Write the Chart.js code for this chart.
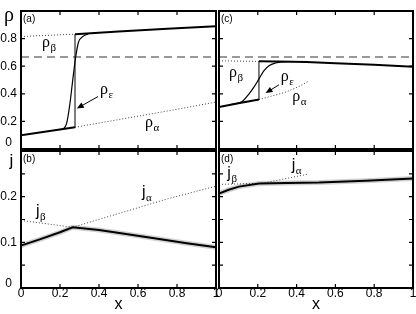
<!DOCTYPE html>
<html>
<head>
<meta charset="utf-8">
<script src="https://cdn.jsdelivr.net/npm/chart.js@4.4.1/dist/chart.umd.min.js"></script>
<style>
  html, body { margin: 0; padding: 0; background: #fff; }
  #wrap { position: relative; width: 416px; height: 314px; }
  #wrap canvas { position: absolute; left: 0; top: 0; }
</style>
</head>
<body>
<div id="wrap">
  <canvas id="panel-a" width="416" height="314"></canvas>
  <canvas id="panel-b" width="416" height="314"></canvas>
  <canvas id="panel-c" width="416" height="314"></canvas>
  <canvas id="panel-d" width="416" height="314"></canvas>
</div>
<script>
// ticks
const xTicks = [0, 0.2, 0.4, 0.6, 0.8, 1];
const xTickLabels = ["0", "0.2", "0.4", "0.6", "0.8", "1"];
const rhoTicks = [0, 0.2, 0.4, 0.6, 0.8, 1];
const rhoTickLabels = ["0", "0.2", "0.4", "0.6", "0.8", ""];
const jTicks = [0, 0.05, 0.1, 0.15, 0.2, 0.25, 0.3];
const jTickLabels = ["0", "", "0.1", "", "0.2", "", ""];

// dashed reference density
const refX = [0, 1];
const refRho = [0.667, 0.667];

// (a) densities
const aShock = 0.277;
const aAlphaX = [0, 0.277, 0.5, 0.75, 1];
const aAlpha = [0.10, 0.157, 0.213, 0.275, 0.34];
const aBetaX = [0, 0.277, 0.5, 0.75, 1];
const aBeta = [0.815, 0.832, 0.852, 0.871, 0.89];
const aEpsX = [0.20, 0.217, 0.234, 0.251, 0.265, 0.28, 0.294, 0.32, 0.345];
const aEps = [0.141, 0.147, 0.186, 0.33, 0.496, 0.663, 0.77, 0.818, 0.834];

// (c) densities
const cShock = 0.206;
const cAlphaX = [0, 0.1, 0.206, 0.344, 0.412, 0.46];
const cAlpha = [0.305, 0.332, 0.358, 0.412, 0.453, 0.49];
const cBetaX = [0, 0.206, 0.3, 0.45, 0.6, 0.8, 1];
const cBeta = [0.639, 0.635, 0.634, 0.630, 0.622, 0.61, 0.596];
const cEpsX = [0.06, 0.12, 0.155, 0.18, 0.206, 0.232, 0.258, 0.292, 0.326, 0.36];
const cEps = [0.321, 0.345, 0.40, 0.448, 0.508, 0.568, 0.603, 0.623, 0.632, 0.634];

// (b) currents
const bBetaX = [0, 0.265];
const bBeta = [0.148, 0.133];
const bAlphaX = [0.265, 0.5, 0.75, 1];
const bAlpha = [0.133, 0.163, 0.195, 0.223];
const bSimX = [0, 0.1, 0.2, 0.265, 0.4, 0.513, 0.7, 0.85, 1];
const bSim = [0.093, 0.107, 0.122, 0.133, 0.127, 0.12, 0.108, 0.098, 0.089];

// (d) currents
const dBetaX = [0, 0.22];
const dBeta = [0.227, 0.229];
const dAlphaX = [0.22, 0.455];
const dAlpha = [0.229, 0.249];
const dSimX = [0, 0.05, 0.103, 0.206, 0.35, 0.515, 0.756, 1];
const dSim = [0.207, 0.215, 0.222, 0.229, 0.23, 0.231, 0.235, 0.24];

const SANS = "'Liberation Sans', Arial, sans-serif";
const SERIF = "'Liberation Serif', 'Times New Roman', serif";

const THICK = { borderWidth: 2 };
const THIN = { borderWidth: 1 };
const SMOOTH = { borderWidth: 1.2, cubicInterpolationMode: "monotone" };
const DOTTED = { borderWidth: 1, borderDash: [1, 2], borderColor: "#444" };
const DASHED = { borderWidth: 2, borderDash: [8, 5], borderColor: "#999" };
const FUZZ = { borderWidth: 5, borderColor: "rgba(0,0,0,0.18)" };

const pts = (xs, ys) => xs.map((x, i) => ({ x, y: ys[i] }));
const upTo = (p, s) => p.filter(q => q.x <= s);
const from = (p, s) => p.filter(q => q.x >= s);
const at = (p, s) => p.find(q => q.x === s);

function line(data, style) {
  return { data, showLine: true, pointRadius: 0, borderColor: "#000", fill: false, ...style };
}

function drawSymbol(ctx, px, py, main, sub, font, size) {
  ctx.textAlign = "left";
  ctx.textBaseline = "alphabetic";
  ctx.font = `${size}px ${font}`;
  ctx.fillText(main, px, py);
  const w = ctx.measureText(main).width;
  ctx.font = `${Math.round(size * 0.68)}px ${SERIF}`;
  ctx.fillText(sub, px + w + 0.5, py + 4);
}

const panelDecor = {
  id: "panelDecor",
  afterDatasetsDraw(chart, args, opts) {
    const { ctx, chartArea: a, scales: { x, y } } = chart;
    ctx.save();
    ctx.strokeStyle = "#000";
    ctx.fillStyle = "#000";

    // inward tick marks on all four sides
    ctx.lineWidth = 1.2;
    ctx.beginPath();
    for (const v of opts.xTicks) {
      const px = x.getPixelForValue(v);
      ctx.moveTo(px, a.top); ctx.lineTo(px, a.top + 4);
      ctx.moveTo(px, a.bottom); ctx.lineTo(px, a.bottom - 4);
    }
    for (const v of opts.yTicks) {
      const py = y.getPixelForValue(v);
      ctx.moveTo(a.left, py); ctx.lineTo(a.left + 4, py);
      ctx.moveTo(a.right, py); ctx.lineTo(a.right - 4, py);
    }
    ctx.stroke();

    ctx.lineWidth = 2;
    ctx.strokeRect(a.left, a.top, a.right - a.left, a.bottom - a.top);

    ctx.font = `10px ${SANS}`;
    ctx.textBaseline = "top";
    ctx.fillText(opts.tag, a.left + 2, a.top + 3);

    if (opts.axisSymbol) {
      const s = opts.axisSymbol;
      ctx.font = `${s.size}px ${s.font}`;
      ctx.textAlign = "center";
      ctx.textBaseline = "alphabetic";
      ctx.fillText(s.text, a.left - s.dx, a.top + s.dy);
    }

    for (const n of opts.notes) {
      drawSymbol(ctx, x.getPixelForValue(n.x), y.getPixelForValue(n.y), n.main, n.sub, n.font, 16);
    }

    ctx.lineWidth = 1;
    for (const ar of opts.arrows) {
      const x0 = x.getPixelForValue(ar.from[0]), y0 = y.getPixelForValue(ar.from[1]);
      const x1 = x.getPixelForValue(ar.to[0]), y1 = y.getPixelForValue(ar.to[1]);
      const ang = Math.atan2(y1 - y0, x1 - x0);
      ctx.beginPath();
      ctx.moveTo(x0, y0);
      ctx.lineTo(x1 - 5 * Math.cos(ang), y1 - 5 * Math.sin(ang));
      ctx.stroke();
      ctx.beginPath();
      ctx.moveTo(x1, y1);
      ctx.lineTo(x1 - 7 * Math.cos(ang) + 3 * Math.sin(ang), y1 - 7 * Math.sin(ang) - 3 * Math.cos(ang));
      ctx.lineTo(x1 - 7 * Math.cos(ang) - 3 * Math.sin(ang), y1 - 7 * Math.sin(ang) + 3 * Math.cos(ang));
      ctx.closePath();
      ctx.fill();
    }
    ctx.restore();
  },
};

function xAxis(show) {
  const axis = {
    type: "linear", min: 0, max: 1, display: show,
    afterBuildTicks: s => { s.ticks = xTicks.map(v => ({ value: v })); },
    grid: { display: false, drawTicks: false },
    border: { display: false },
    ticks: {
      autoSkip: false, maxRotation: 0, padding: -2, color: "#000",
      font: { family: SANS, size: 12 },
      callback: (v, i) => xTickLabels[i],
    },
    title: { display: show, text: "x", color: "#000", font: { family: SANS, size: 16 }, padding: 0 },
  };
  if (show) axis.afterFit = s => { s.height = 26; };
  return axis;
}

function yAxis(max, tickValues, tickLabels, show, zeroLift) {
  const axis = {
    type: "linear", min: 0, max, display: show, position: "left",
    afterBuildTicks: s => { s.ticks = tickValues.map(v => ({ value: v })); },
    grid: { display: false, drawTicks: false },
    border: { display: false },
    ticks: {
      autoSkip: false, padding: 4, crossAlign: "center", color: "#000",
      font: { family: SANS, size: 12, lineHeight: (zeroLift * 2) + "px" },
      // the zero label sits a little above its tick, clear of the x labels
      callback: (v, i) => (i === 0 ? [tickLabels[i], ""] : tickLabels[i]),
    },
  };
  if (show) axis.afterFit = s => { s.width = 21; };
  return axis;
}

function makePanel(id, area, scales, datasets, decor) {
  return new Chart(document.getElementById(id), {
    type: "scatter",
    data: { datasets },
    options: {
      responsive: false,
      animation: false,
      devicePixelRatio: 1,
      layout: { padding: area },
      scales,
      plugins: { legend: { display: false }, tooltip: { enabled: false }, panelDecor: decor },
    },
    plugins: [panelDecor],
  });
}

const aAlphaPts = pts(aAlphaX, aAlpha);
const aBetaPts = pts(aBetaX, aBeta);
makePanel("panel-a", { left: 0, top: 11, right: 200, bottom: 165 }, {
  x: xAxis(false),
  y: yAxis(1, rhoTicks, rhoTickLabels, true, 6.5),
}, [
  line(upTo(aAlphaPts, aShock), THICK),
  line(from(aBetaPts, aShock), THICK),
  line([at(aAlphaPts, aShock), at(aBetaPts, aShock)], THIN),
  line(pts(aEpsX, aEps), SMOOTH),
  line(upTo(aBetaPts, aShock), DOTTED),
  line(from(aAlphaPts, aShock), DOTTED),
  line(pts(refX, refRho), DASHED),
], {
  tag: "(a)", xTicks, yTicks: rhoTicks,
  axisSymbol: { text: "ρ", font: SERIF, size: 20, dx: 12, dy: 10 },
  notes: [
    { x: 0.108, y: 0.74, main: "ρ", sub: "β", font: SERIF },
    { x: 0.405, y: 0.396, main: "ρ", sub: "ε", font: SERIF },
    { x: 0.636, y: 0.16, main: "ρ", sub: "α", font: SERIF },
  ],
  arrows: [{ from: [0.395, 0.38], to: [0.286, 0.293] }],
});

const cAlphaPts = pts(cAlphaX, cAlpha);
const cBetaPts = pts(cBetaX, cBeta);
makePanel("panel-c", { left: 219, top: 11, right: 3, bottom: 165 }, {
  x: xAxis(false),
  y: yAxis(1, rhoTicks, rhoTickLabels, false, 6.5),
}, [
  line(upTo(cAlphaPts, cShock), THICK),
  line(from(cBetaPts, cShock), THICK),
  line([at(cAlphaPts, cShock), at(cBetaPts, cShock)], THIN),
  line(pts(cEpsX, cEps), SMOOTH),
  line(upTo(cBetaPts, cShock), DOTTED),
  line(from(cAlphaPts, cShock), DOTTED),
  line(pts(refX, refRho), DASHED),
], {
  tag: "(c)", xTicks, yTicks: rhoTicks,
  notes: [
    { x: 0.052, y: 0.525, main: "ρ", sub: "β", font: SERIF },
    { x: 0.318, y: 0.496, main: "ρ", sub: "ε", font: SERIF },
    { x: 0.378, y: 0.346, main: "ρ", sub: "α", font: SERIF },
  ],
  arrows: [{ from: [0.309, 0.465], to: [0.24, 0.405] }],
});

makePanel("panel-b", { left: 0, top: 151, right: 200, bottom: 0 }, {
  x: xAxis(true),
  y: yAxis(0.3, jTicks, jTickLabels, true, 4),
}, [
  line(pts(bSimX, bSim), THICK),
  line(pts(bSimX, bSim), FUZZ),
  line(pts(bBetaX, bBeta), DOTTED),
  line(pts(bAlphaX, bAlpha), DOTTED),
], {
  tag: "(b)", xTicks, yTicks: jTicks,
  axisSymbol: { text: "j", font: SANS, size: 17, dx: 9.5, dy: 15 },
  notes: [
    { x: 0.077, y: 0.158, main: "j", sub: "β", font: SANS },
    { x: 0.62, y: 0.199, main: "j", sub: "α", font: SANS },
  ],
  arrows: [],
});

makePanel("panel-d", { left: 219, top: 151, right: 3, bottom: 0 }, {
  x: xAxis(true),
  y: yAxis(0.3, jTicks, jTickLabels, false, 4),
}, [
  line(pts(dSimX, dSim), THICK),
  line(pts(dSimX, dSim), FUZZ),
  line(pts(dBetaX, dBeta), DOTTED),
  line(pts(dAlphaX, dAlpha), DOTTED),
], {
  tag: "(d)", xTicks, yTicks: jTicks,
  notes: [
    { x: 0.043, y: 0.241, main: "j", sub: "β", font: SANS },
    { x: 0.375, y: 0.258, main: "j", sub: "α", font: SANS },
  ],
  arrows: [],
});
</script>
</body>
</html>
